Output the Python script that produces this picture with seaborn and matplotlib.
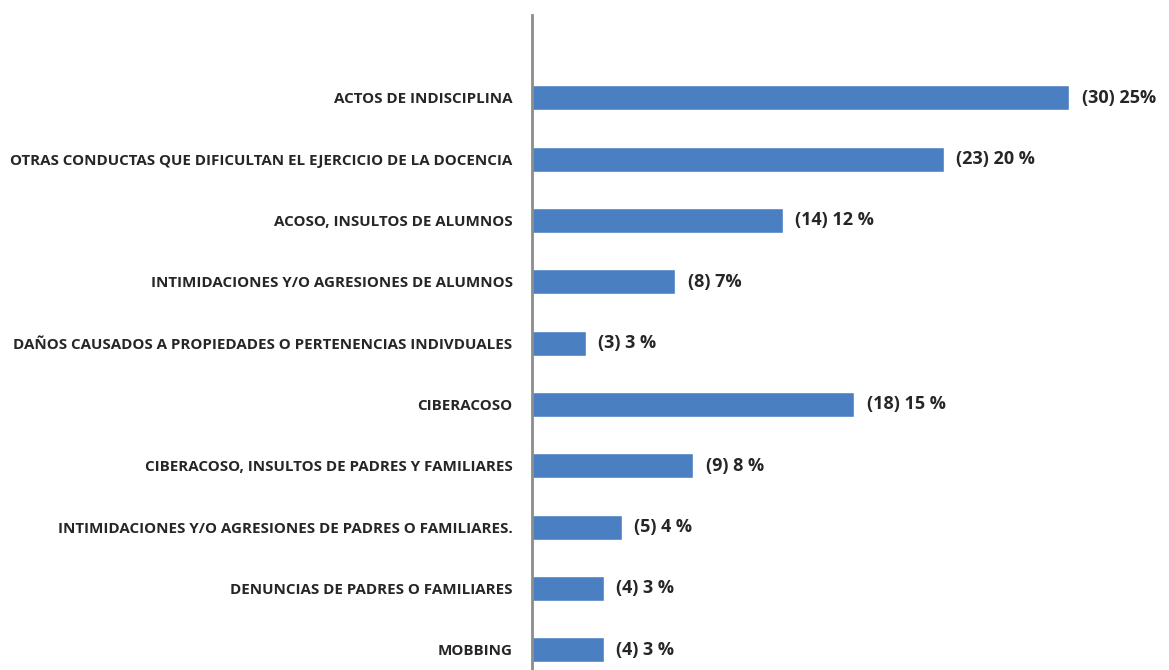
import seaborn as sns
import matplotlib.pyplot as plt
import pandas as pd

# Data
categorias = [
    'ACTOS DE INDISCIPLINA',
    'OTRAS CONDUCTAS QUE DIFICULTAN EL EJERCICIO DE LA DOCENCIA',
    'ACOSO, INSULTOS DE ALUMNOS',
    'INTIMIDACIONES Y/O AGRESIONES DE ALUMNOS',
    'DAÑOS CAUSADOS A PROPIEDADES O PERTENENCIAS INDIVDUALES',
    'CIBERACOSO',
    'CIBERACOSO, INSULTOS DE PADRES Y FAMILIARES',
    'INTIMIDACIONES Y/O AGRESIONES DE PADRES O FAMILIARES.',
    'DENUNCIAS DE PADRES O FAMILIARES',
    'MOBBING',
]
casos = [30, 23, 14, 8, 3, 18, 9, 5, 4, 4]
etiquetas = ['(30) 25%', '(23) 20 %', '(14) 12 %', '(8) 7%', '(3) 3 %',
             '(18) 15 %', '(9) 8 %', '(5) 4 %', '(4) 3 %', '(4) 3 %']

df = pd.DataFrame({'categoria': categorias, 'casos': casos})

sns.set_style("white")
plt.rcParams['font.family'] = ['Open Sans', 'DejaVu Sans']

fig = plt.figure(figsize=(11.69, 6.70), dpi=100)
ax = fig.add_axes([0.4551, 0.0, 0.536, 0.9776])

sns.barplot(data=df, x='casos', y='categoria', orient='h', color='#4a7fc1',
            saturation=1, width=0.41, ax=ax)

ax.set_xlim(0, 35)
ax.set_ylim(9.33, -1.35)
ax.set_xlabel('')
ax.set_ylabel('')
ax.set_xticks([])

for side in ['top', 'right', 'bottom']:
    ax.spines[side].set_visible(False)
ax.spines['left'].set_color('#8c8c8c')
ax.spines['left'].set_linewidth(2)

ax.tick_params(axis='y', length=0, pad=14)
for label in ax.get_yticklabels():
    label.set_fontweight('bold')
    label.set_fontsize(10.9)
    label.set_color('#262626')

# Value labels next to each bar
for cont in ax.containers:
    ax.bar_label(cont, labels=etiquetas, padding=9, fontsize=13,
                 fontweight='bold', color='#262626')

fig.savefig('out.png', dpi=100)
